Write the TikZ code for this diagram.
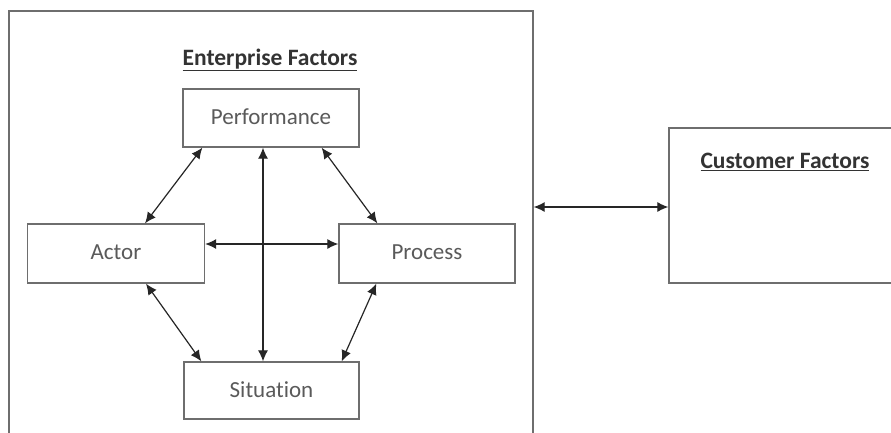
\documentclass[tikz,border=0pt]{standalone}
\usepackage{fontspec}
\setmainfont{Carlito}[Ligatures=NoCommon]
\usetikzlibrary{arrows.meta,calc}
\definecolor{boxline}{HTML}{6E6E6E}
\definecolor{arrowc}{HTML}{262626}
\definecolor{labelc}{HTML}{5A5A5A}
\definecolor{titlec}{HTML}{333333}
\tikzset{
  factorbox/.style={draw=boxline, line width=1.3pt, minimum width=176pt, minimum height=58pt, inner sep=0pt, font=\fontsize{23}{26}\selectfont, text=labelc},
  framebox/.style={draw=boxline, line width=1.3pt, inner sep=0pt},
  heading/.style={font=\fontsize{23.5}{26}\selectfont\bfseries, text=titlec, inner sep=0pt},
  link/.style={draw=arrowc, line width=1.2pt, {Latex[length=11pt,width=10pt]}-{Latex[length=11pt,width=10pt]}}
}
\begin{document}
\begin{tikzpicture}[x=1pt,y=-1pt]
\useasboundingbox (0,0) rectangle (891,432);
\fill[white] (0,0) rectangle (891,432);
\clip (0,0) rectangle (891,432);
% outer enterprise frame
\node[framebox, minimum width=524pt, minimum height=450pt] (outer) at (271,236) {};
\node[heading] (enttitle) at (270,60) {\underline{Enterprise Factors}};
% customer frame
\node[framebox, minimum width=240pt, minimum height=155pt] (cust) at (789,205.5) {};
\node[heading] (custtitle) at (785,162) {\underline{Customer Factors}};
% factor boxes
\node[factorbox] (perf) at (271,118) {\raisebox{2pt}{Performance}};
\node[factorbox, minimum width=177pt, minimum height=59pt] (actor) at (116,253.5) {\raisebox{2pt}{Actor}};
\node[factorbox, minimum height=59pt] (proc) at (427,253.5) {\raisebox{2pt}{Process}};
\node[factorbox, minimum width=175pt, minimum height=57pt] (sit) at (271.5,390.5) {\raisebox{2pt}{Situation}};
% connectors
\draw[link] ($(perf.south)+(-8,0)$) -- ($(sit.north)+(-8.5,0)$);
\draw[link] ($(actor.east)+(0,-9.5)$) -- ($(proc.west)+(0,-9.5)$);
\draw[link] ($(perf.south west)+(20,0)$) -- ($(actor.north)+(29,0)$);
\draw[link] ($(perf.south east)+(-38,0)$) -- ($(proc.north west)+(39,0)$);
\draw[link] ($(actor.south)+(30,0)$) -- ($(sit.north west)+(18,0)$);
\draw[link] ($(proc.south west)+(38,0)$) -- ($(sit.north east)+(-18,0)$);
\draw[link] ($(outer.east)+(0,-29)$) -- ($(cust.west)+(0,1.5)$);
\end{tikzpicture}
\end{document}
